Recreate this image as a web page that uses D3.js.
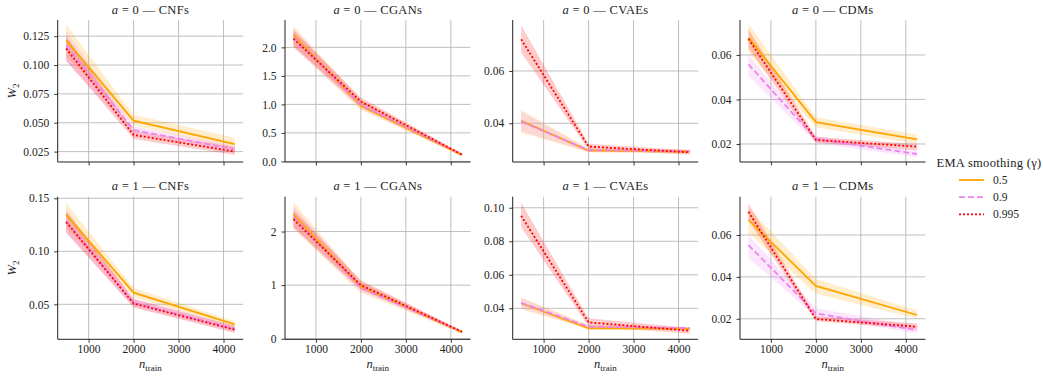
<!DOCTYPE html>
<html>
<head>
<meta charset="utf-8">
<script src="https://cdn.jsdelivr.net/npm/d3@7"></script>
<style>
  body { margin: 0; background: #fff; }
</style>
</head>
<body>
<div id="chart"></div>
<script>
  // Data: x = n_train, series order = gamma 0.5, 0.9, 0.995
  var nTrain = [500, 2000, 4250];
  var gammas = ["0.5", "0.9", "0.995"];
  var models = ["CNFs", "CGANs", "CVAEs", "CDMs"];
  var aValues = [0, 1];

  // a = 0
  var cnfA0Mean = [[0.1213, 0.0518, 0.0315], [0.1170, 0.0437, 0.0270], [0.1143, 0.0394, 0.0250]];
  var cnfA0Lo   = [[0.108, 0.048, 0.027], [0.103, 0.040, 0.024], [0.104, 0.036, 0.022]];
  var cnfA0Hi   = [[0.135, 0.057, 0.037], [0.129, 0.047, 0.030], [0.125, 0.043, 0.029]];

  var ganA0Mean = [[2.22, 0.97, 0.11], [2.18, 0.99, 0.12], [2.15, 1.05, 0.12]];
  var ganA0Lo   = [[2.00, 0.90, 0.09], [2.00, 0.92, 0.10], [2.02, 0.96, 0.10]];
  var ganA0Hi   = [[2.38, 1.08, 0.14], [2.34, 1.06, 0.14], [2.30, 1.12, 0.14]];

  var vaeA0Mean = [[0.0409, 0.0296, 0.0292], [0.0407, 0.0297, 0.0293], [0.0721, 0.0311, 0.0289]];
  var vaeA0Lo   = [[0.0365, 0.0288, 0.0285], [0.0370, 0.0290, 0.0287], [0.0671, 0.0300, 0.0280]];
  var vaeA0Hi   = [[0.0451, 0.0305, 0.0300], [0.0445, 0.0303, 0.0299], [0.0775, 0.0322, 0.0297]];

  var dmA0Mean  = [[0.0678, 0.0298, 0.0221], [0.0558, 0.0222, 0.0155], [0.0672, 0.0218, 0.0188]];
  var dmA0Lo    = [[0.0610, 0.0275, 0.0200], [0.0505, 0.0205, 0.0140], [0.0630, 0.0205, 0.0172]];
  var dmA0Hi    = [[0.0740, 0.0320, 0.0242], [0.0600, 0.0235, 0.0170], [0.0715, 0.0232, 0.0200]];

  // a = 1
  var cnfA1Mean = [[0.1346, 0.0610, 0.0310], [0.1285, 0.0515, 0.0270], [0.1276, 0.0507, 0.0260]];
  var cnfA1Lo   = [[0.1220, 0.0570, 0.0280], [0.1170, 0.0475, 0.0240], [0.1180, 0.0470, 0.0230]];
  var cnfA1Hi   = [[0.1456, 0.0655, 0.0340], [0.1390, 0.0555, 0.0300], [0.1380, 0.0550, 0.0295]];

  var ganA1Mean = [[2.32, 0.97, 0.12], [2.27, 0.95, 0.13], [2.23, 1.00, 0.13]];
  var ganA1Lo   = [[2.05, 0.86, 0.10], [2.07, 0.88, 0.11], [2.08, 0.92, 0.11]];
  var ganA1Hi   = [[2.55, 1.07, 0.15], [2.48, 1.05, 0.15], [2.40, 1.09, 0.15]];

  var vaeA1Mean = [[0.0430, 0.0281, 0.0278], [0.0432, 0.0290, 0.0282], [0.0952, 0.0316, 0.0266]];
  var vaeA1Lo   = [[0.0395, 0.0275, 0.0272], [0.0400, 0.0282, 0.0276], [0.0883, 0.0292, 0.0250]];
  var vaeA1Hi   = [[0.0465, 0.0300, 0.0285], [0.0462, 0.0298, 0.0288], [0.1030, 0.0340, 0.0282]];

  var dmA1Mean  = [[0.0672, 0.0357, 0.0218], [0.0552, 0.0226, 0.0145], [0.0711, 0.0199, 0.0162]];
  var dmA1Lo    = [[0.0610, 0.0320, 0.0200], [0.0490, 0.0210, 0.0130], [0.0670, 0.0188, 0.0150]];
  var dmA1Hi    = [[0.0730, 0.0390, 0.0240], [0.0600, 0.0250, 0.0165], [0.0750, 0.0212, 0.0178]];

  // Axis limits and tick values per panel (row-major)
  var yLimits = [[0.016, 0.139], [-0.01, 2.48], [0.0252, 0.0795], [0.0119, 0.0757],
                 [0.017, 0.1515], [-0.01, 2.65], [0.0215, 0.1066], [0.0102, 0.0783]];
  var yTicks = [[0.025, 0.05, 0.075, 0.1, 0.125], [0, 0.5, 1, 1.5, 2], [0.04, 0.06], [0.02, 0.04, 0.06],
                [0.05, 0.1, 0.15], [0, 1, 2], [0.04, 0.06, 0.08, 0.1], [0.02, 0.04, 0.06]];
  var yFormats = [".3f", ".1f", ".2f", ".2f", ".2f", "d", ".2f", ".2f"];
  var xTicks = [1000, 2000, 3000, 4000];

  var panelMeans = [cnfA0Mean, ganA0Mean, vaeA0Mean, dmA0Mean, cnfA1Mean, ganA1Mean, vaeA1Mean, dmA1Mean];
  var panelLos = [cnfA0Lo, ganA0Lo, vaeA0Lo, dmA0Lo, cnfA1Lo, ganA1Lo, vaeA1Lo, dmA1Lo];
  var panelHis = [cnfA0Hi, ganA0Hi, vaeA0Hi, dmA0Hi, cnfA1Hi, ganA1Hi, vaeA1Hi, dmA1Hi];

  // Styles
  var colors = ["orange", "violet", "red"];
  var dashes = [null, "6,3", "2,2"];
  var serif = "'Liberation Serif', 'Times New Roman', serif";

  var width = 1043, height = 376;
  var panelW = 185.5;
  var panelLefts = [57.7, 285, 512.7, 740];
  var rowTops = [20, 196.7];
  var rowBottoms = [162, 339.3];

  var svg = d3.select("#chart").append("svg")
              .attr("width", width)
              .attr("height", height)
              .style("font-family", serif);

  // x scale with matplotlib-like 5% margins
  var xPad = (nTrain[2] - nTrain[0]) * 0.05;

  function drawPanel(row, col) {
    var idx = row * 4 + col;
    var left = panelLefts[col];
    var top = rowTops[row], bottom = rowBottoms[row];

    var xScale = d3.scaleLinear()
                   .domain([nTrain[0] - xPad, nTrain[2] + xPad])
                   .range([left, left + panelW]);
    var yScale = d3.scaleLinear()
                   .domain(yLimits[idx])
                   .range([bottom, top]);

    var g = svg.append("g");

    // grid
    g.selectAll("line.gx").data(xTicks).enter().append("line")
     .attr("x1", function(d) { return xScale(d); }).attr("x2", function(d) { return xScale(d); })
     .attr("y1", top).attr("y2", bottom)
     .attr("stroke", "#b8b8b8").attr("stroke-width", 0.9);
    g.selectAll("line.gy").data(yTicks[idx]).enter().append("line")
     .attr("y1", function(d) { return yScale(d); }).attr("y2", function(d) { return yScale(d); })
     .attr("x1", left).attr("x2", left + panelW)
     .attr("stroke", "#b8b8b8").attr("stroke-width", 0.9);

    var area = d3.area()
                 .x(function(d, i) { return xScale(nTrain[i]); })
                 .y0(function(d) { return yScale(d[0]); })
                 .y1(function(d) { return yScale(d[1]); });
    var line = d3.line()
                 .x(function(d, i) { return xScale(nTrain[i]); })
                 .y(function(d) { return yScale(d); });

    // bands + lines, one per gamma
    gammas.forEach(function(gm, s) {
      var band = panelLos[idx][s].map(function(lo, i) { return [lo, panelHis[idx][s][i]]; });
      g.append("path").attr("d", area(band))
       .attr("fill", colors[s]).attr("fill-opacity", 0.2).attr("stroke", "none");
    });
    gammas.forEach(function(gm, s) {
      g.append("path").attr("d", line(panelMeans[idx][s]))
       .attr("fill", "none").attr("stroke", colors[s]).attr("stroke-width", 1.8)
       .attr("stroke-dasharray", dashes[s]);
    });

    // axes
    var xAxis = d3.axisBottom(xScale).tickValues(xTicks).tickSize(3.5).tickPadding(2.5)
                  .tickFormat(row === 1 ? d3.format("d") : function() { return ""; });
    var yAxis = d3.axisLeft(yScale).tickValues(yTicks[idx]).tickSize(3.5).tickPadding(5)
                  .tickFormat(d3.format(yFormats[idx]));
    var gx = g.append("g").attr("transform", "translate(0," + bottom + ")").call(xAxis);
    var gy = g.append("g").attr("transform", "translate(" + left + ",0)").call(yAxis);
    [gx, gy].forEach(function(a) {
      a.attr("font-family", null).attr("font-size", null);
      a.select(".domain").attr("stroke", "#222").attr("stroke-width", 1);
      a.selectAll(".tick line").attr("stroke", "#222").attr("stroke-width", 0.9);
      a.selectAll("text").style("font-family", serif).style("font-size", "11.5px").style("fill", "#222");
    });
    gx.select(".domain").attr("d", "M" + left + ",0H" + (left + panelW));
    gy.select(".domain").attr("d", "M0," + top + "V" + bottom);

    // title
    var t = g.append("text")
             .attr("x", left + panelW / 2).attr("y", top - 6.5)
             .attr("text-anchor", "middle")
             .style("font-family", serif).style("font-size", "12.5px").style("fill", "#222")
             .style("letter-spacing", "0.3px");
    t.append("tspan").attr("font-style", "italic").text("a");
    t.append("tspan").text(" = " + aValues[row] + " \u2014 " + models[col]);

    // axis labels
    if (col === 0) {
      var yl = g.append("text")
                .attr("transform", "translate(16," + ((top + bottom) / 2) + ") rotate(-90)")
                .attr("text-anchor", "middle")
                .style("font-family", serif).style("font-size", "12.5px").style("fill", "#222");
      yl.append("tspan").attr("font-style", "italic").text("W");
      yl.append("tspan").style("font-size", "9px").attr("dy", 3).text("2");
    }
    if (row === 1) {
      var xl = g.append("text")
                .attr("x", left + panelW / 2).attr("y", 368)
                .attr("text-anchor", "middle")
                .style("font-family", serif).style("font-size", "12.5px").style("fill", "#222");
      xl.append("tspan").attr("font-style", "italic").text("n");
      xl.append("tspan").style("font-size", "9px").attr("dy", 3).text("train");
    }
  }

  aValues.forEach(function(a, row) {
    models.forEach(function(m, col) { drawPanel(row, col); });
  });

  // Legend
  var legend = svg.append("g");
  legend.append("text").attr("x", 936.5).attr("y", 167)
        .style("font-family", serif).style("font-size", "12.5px").style("fill", "#222")
        .style("letter-spacing", "0.3px")
        .text("EMA smoothing (\u03B3)");
  gammas.forEach(function(gm, s) {
    var y = 180 + s * 17.2;
    legend.append("line").attr("x1", 959).attr("x2", 984).attr("y1", y).attr("y2", y)
          .attr("stroke", colors[s]).attr("stroke-width", 1.8)
          .attr("stroke-dasharray", dashes[s]);
    legend.append("text").attr("x", 993).attr("y", y + 4)
          .style("font-family", serif).style("font-size", "11.5px").style("fill", "#222")
          .text(gm);
  });
</script>
</body>
</html>
